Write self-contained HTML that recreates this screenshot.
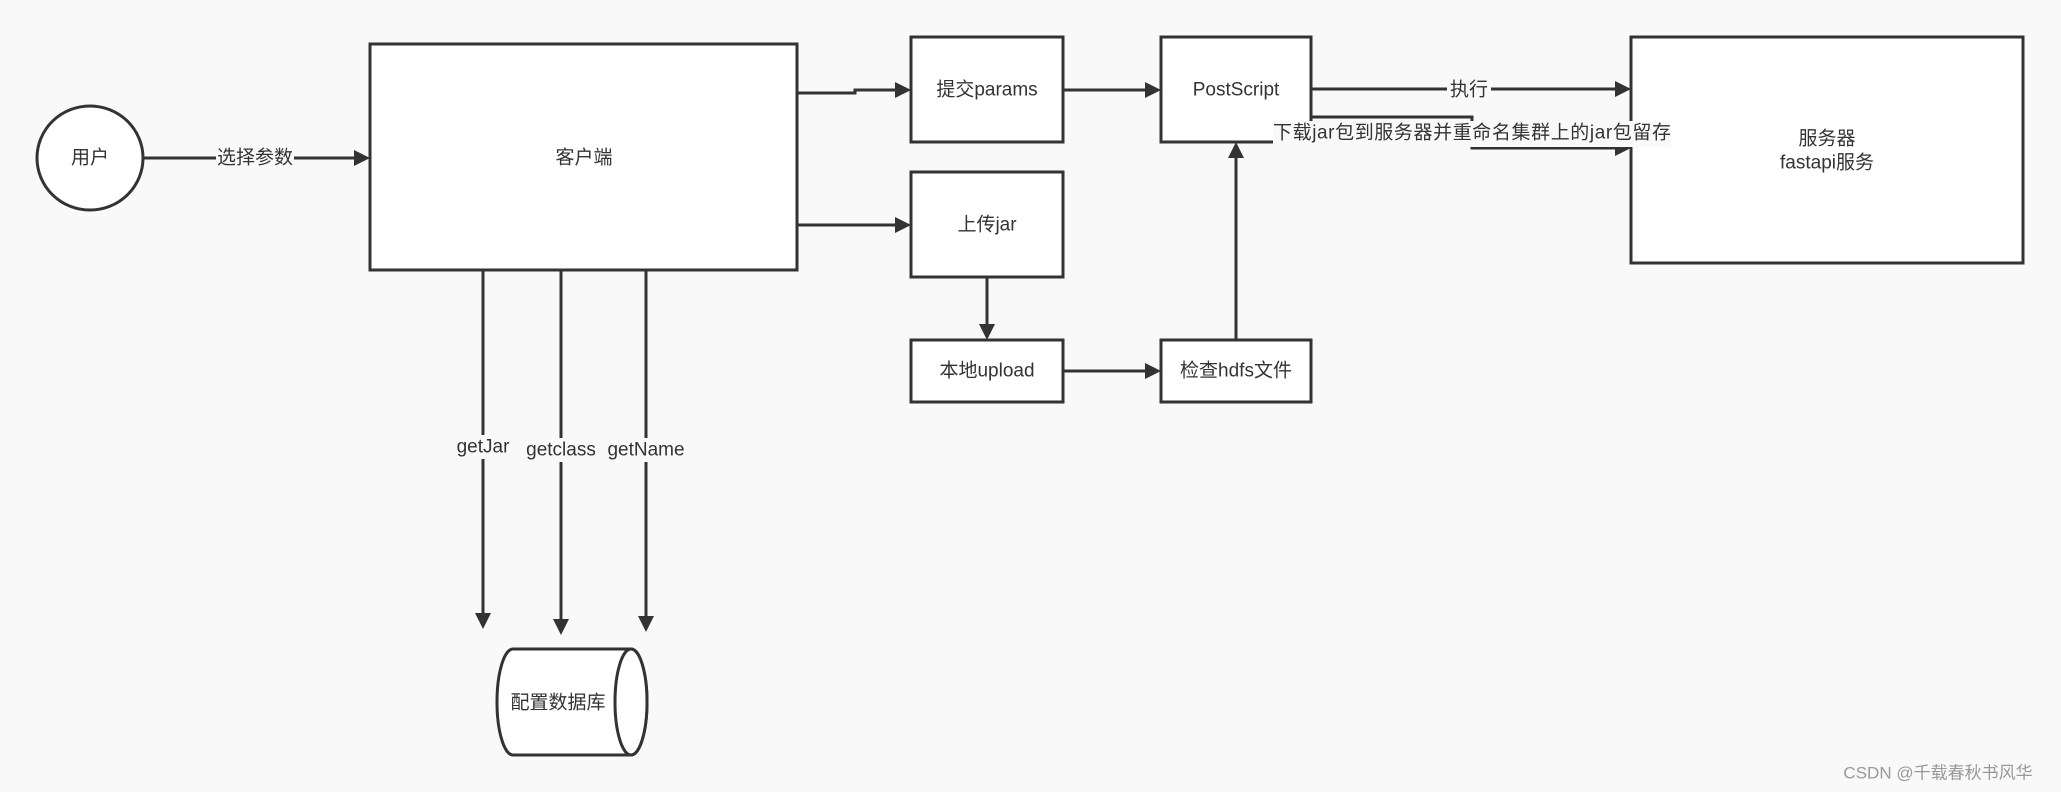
<!DOCTYPE html>
<html><head><meta charset="utf-8"><style>
html,body{margin:0;padding:0;background:#f9f9f9;}
svg{display:block;}
text{font-family:"Liberation Sans","Noto Sans CJK SC",sans-serif;font-size:19px;fill:#333;}
</style></head><body>
<svg width="2061" height="792" viewBox="0 0 2061 792" xmlns="http://www.w3.org/2000/svg">
<defs>
<marker id="a" markerWidth="10" markerHeight="10" refX="9" refY="5" orient="auto" markerUnits="userSpaceOnUse" viewBox="0 0 10 10">
</marker>
</defs>
<rect width="2061" height="792" fill="#f9f9f9"/>
<g stroke="#333" stroke-width="3" fill="#fff">
<ellipse cx="90" cy="158" rx="53" ry="52"/>
<rect x="370" y="44" width="427" height="226"/>
<rect x="911" y="37" width="152" height="105"/>
<rect x="911" y="172" width="152" height="105"/>
<rect x="911" y="340" width="152" height="62"/>
<rect x="1161" y="37" width="150" height="105"/>
<rect x="1161" y="340" width="150" height="62"/>
<rect x="1631" y="37" width="392" height="226"/>
<path d="M513 649 H631 A16 53 0 0 1 631 755 H513 A16 53 0 0 1 513 649 Z"/>
<ellipse cx="631" cy="702" rx="16" ry="53"/>
</g>
<g stroke="#333" stroke-width="3" fill="none">
<path d="M143 158 H356"/>
<path d="M797 93 H855 V90 H897"/>
<path d="M797 225 H897"/>
<path d="M1063 90 H1147"/>
<path d="M987 277 V326"/>
<path d="M1063 371 H1147"/>
<path d="M1236 340 V156"/>
<path d="M1311 89 H1617"/>
<path d="M1311 117 H1472 V148 H1617"/>
<path d="M483 270 V615"/>
<path d="M561 270 V621"/>
<path d="M646 270 V618"/>
</g>
<g fill="#333">
<path d="M370 158 l-16 -8 v16 z"/>
<path d="M911 90 l-16 -8 v16 z"/>
<path d="M911 225 l-16 -8 v16 z"/>
<path d="M1161 90 l-16 -8 v16 z"/>
<path d="M1161 371 l-16 -8 v16 z"/>
<path d="M1631 89 l-16 -8 v16 z"/>
<path d="M1631 148 l-16 -8 v16 z"/>
<path d="M987 340 l-8 -16 h16 z"/>
<path d="M1236 142 l-8 16 h16 z"/>
<path d="M483 629 l-8 -16 h16 z"/>
<path d="M561 635 l-8 -16 h16 z"/>
<path d="M646 632 l-8 -16 h16 z"/>
</g>
<g fill="#f9f9f9">
<rect x="216" y="146" width="78" height="24"/>
<rect x="455" y="435" width="56" height="24"/>
<rect x="524" y="438" width="74" height="24"/>
<rect x="603" y="438" width="86" height="24"/>
<rect x="1447" y="77" width="44" height="24"/>
<rect x="1273" y="121" width="398" height="26"/>
</g>
<g text-anchor="middle" dominant-baseline="central">
<text x="90" y="158">用户</text>
<text x="255" y="158">选择参数</text>
<text x="584" y="158">客户端</text>
<text x="987" y="90">提交params</text>
<text x="987" y="225">上传jar</text>
<text x="987" y="371">本地upload</text>
<text x="1236" y="90">PostScript</text>
<text x="1236" y="371">检查hdfs文件</text>
<text x="1469" y="90">执行</text>
<text x="1472" y="133" textLength="398">下载jar包到服务器并重命名集群上的jar包留存</text>
<text x="1827" y="139">服务器</text>
<text x="1827" y="163">fastapi服务</text>
<text x="483" y="447">getJar</text>
<text x="561" y="450">getclass</text>
<text x="646" y="450">getName</text>
<text x="558" y="703">配置数据库</text>
<text x="1938" y="773" style="fill:#999;font-size:17px">CSDN @千载春秋书风华</text>
</g>
</svg>
</body></html>
